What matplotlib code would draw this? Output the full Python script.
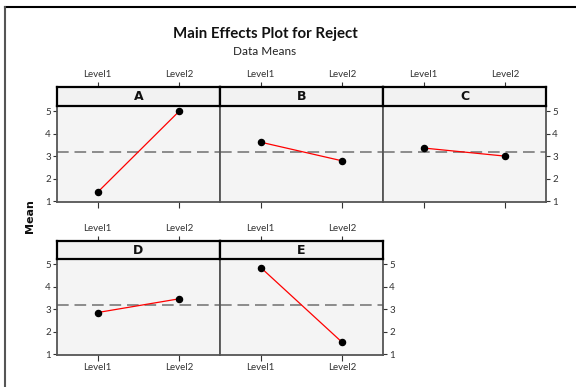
import matplotlib
matplotlib.use("Agg")
import matplotlib.pyplot as plt
from matplotlib.lines import Line2D

factors = ["A", "B", "C", "D", "E"]
levels = ["Level1", "Level2"]
means = {
    "A": [1.40, 5.00],
    "B": [3.62, 2.79],
    "C": [3.36, 3.00],
    "D": [2.85, 3.46],
    "E": [4.85, 1.52],
}
overall_mean = 3.19
yticks = [1, 2, 3, 4, 5]

W, H = 576, 387
plt.rcParams['font.family'] = ['Lato', 'DejaVu Sans']
fig = plt.figure(figsize=(W / 100, H / 100), dpi=100)

def fx(px):
    return px / W

def fy(py):
    return 1 - py / H

# outer border (top and left lines)
fig.add_artist(Line2D([fx(4.5), fx(576)], [fy(6.5), fy(6.5)], color="black", lw=1.5, transform=fig.transFigure))
fig.add_artist(Line2D([fx(4.5), fx(4.5)], [fy(6.5), fy(387)], color="#555555", lw=1.5, transform=fig.transFigure))

fig.text(fx(265), fy(34), "Main Effects Plot for Reject", ha="center", va="center",
         fontsize=10.8, fontweight="bold", color="#111111")
fig.text(fx(265), fy(51.5), "Data Means", ha="center", va="center", fontsize=8.5, color="#222222")
fig.text(fx(30), fy(216), "Mean", ha="center", va="center", rotation=90,
         fontsize=8, fontweight="bold", color="#111111", family="DejaVu Sans")

cols = [(57, 220), (220, 383), (383, 546)]
rows = [(87, 106, 202), (241, 259, 355)]
tick_fs = 7
tick_col = "#333333"

for i, f in enumerate(factors):
    r, c = divmod(i, 3)
    x0, x1 = cols[c]
    ht, hb, pb = rows[r]
    # plot axes
    ax = fig.add_axes([fx(x0), fy(pb), fx(x1 - x0), (pb - hb) / H])
    ax.set_facecolor("#f4f4f4")
    ax.set_xlim(-0.5, 1.5)
    ax.set_ylim(0.96, 5.23)
    ax.axhline(overall_mean, color="#7a7a7a", lw=1.2, dashes=(7, 3.5), zorder=1)
    ax.plot([0, 1], means[f], color="red", lw=0.9, zorder=2)
    ax.plot([0, 1], means[f], "o", color="black", ms=4.4, zorder=3)
    for s in ax.spines.values():
        s.set_color("#555555")
        s.set_linewidth(1.3)
    ax.set_xticks([0, 1])
    if r == 1:
        ax.set_xticklabels(levels, fontsize=tick_fs, color=tick_col)
    else:
        ax.set_xticklabels([])
    ax.tick_params(axis="x", direction="out", length=4, width=0.8, color="#333333", pad=2)
    ax.set_yticks(yticks)
    if f in ("A", "D"):
        ax.yaxis.tick_left()
        ax.set_yticklabels([str(v) for v in yticks], fontsize=tick_fs, color=tick_col)
        ax.tick_params(axis="y", direction="out", length=3, width=0.8, color="#333333", pad=1.5)
    elif f in ("C", "E"):
        ax.yaxis.tick_right()
        ax.set_yticklabels([str(v) for v in yticks], fontsize=tick_fs, color=tick_col)
        ax.tick_params(axis="y", direction="out", length=3, width=0.8, color="#333333", pad=1.5)
    else:
        ax.tick_params(axis="y", left=False, right=False, labelleft=False, labelright=False)

    # header strip
    hx = fig.add_axes([fx(x0), fy(hb), fx(x1 - x0), (hb - ht) / H])
    hx.set_facecolor("#f2f2f2")
    hx.set_xlim(-0.5, 1.5)
    hx.set_ylim(0, 1)
    hx.set_yticks([])
    hx.set_xticks([0, 1])
    hx.xaxis.tick_top()
    hx.set_xticklabels(levels, fontsize=tick_fs, color=tick_col)
    hx.tick_params(axis="x", direction="out", length=3.5, width=0.8, color="#333333", pad=2)
    for s in hx.spines.values():
        s.set_color("black")
        s.set_linewidth(1.6)
    hx.text(0.5, 0.5, f, ha="center", va="center", fontsize=9, fontweight="bold",
            color="#111111", transform=hx.transAxes, family="DejaVu Sans")

fig.savefig("out.png", dpi=100)
